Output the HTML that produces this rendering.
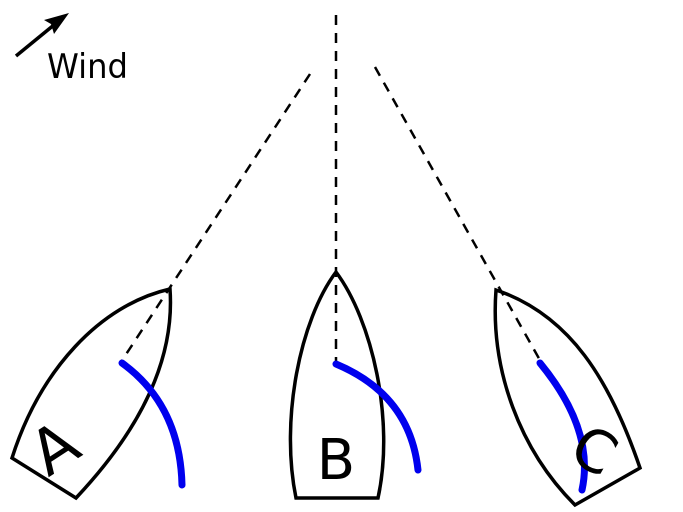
<!DOCTYPE html>
<html><head><style>html,body{margin:0;padding:0;background:#fff}svg{display:block}</style></head><body>
<svg width="683" height="512" viewBox="0 0 683 512" xmlns="http://www.w3.org/2000/svg">
<g stroke="#000" stroke-width="3.5" fill="none">
<line x1="16" y1="56" x2="60" y2="20"/>
<g stroke-dasharray="10,8" stroke-width="2.5">
<line x1="336" y1="15" x2="336" y2="362"/>
<line x1="310" y1="74" x2="121" y2="362"/>
<line x1="375" y1="67" x2="541" y2="362"/>
</g>
<path d="M170,289 C100,305 40,370 12,458 L76,498 C140,430 175,360 170,289 Z"/>
<path d="M336,272 C300,320 280,420 296,498 L378,498 C395,420 372,320 336,272 Z"/>
<path d="M496,290 C490,370 520,450 575,505 L640,468 C610,380 570,315 496,290 Z"/>
</g>
<polygon points="69,13 54,34 51,24 44,20" fill="#000"/>
<g stroke="#0000ee" stroke-width="7" fill="none" stroke-linecap="round">
<path d="M122,363 Q180,405 182,485"/>
<path d="M336,364 Q410,395 418,470"/>
<path d="M540,363 Q595,430 582,490"/>
</g>
<g font-family="DejaVu Sans, sans-serif" fill="#000">
<text x="47" y="78" font-size="34" textLength="81" lengthAdjust="spacingAndGlyphs">Wind</text>
<text x="0" y="0" font-size="62" text-anchor="middle" transform="translate(66,466) rotate(-33)">A</text>
<text x="336" y="479" font-size="56" text-anchor="middle">B</text>
<text x="0" y="0" font-size="58" text-anchor="middle" transform="translate(584,468) rotate(30)">C</text>
</g>
</svg>
</body></html>
